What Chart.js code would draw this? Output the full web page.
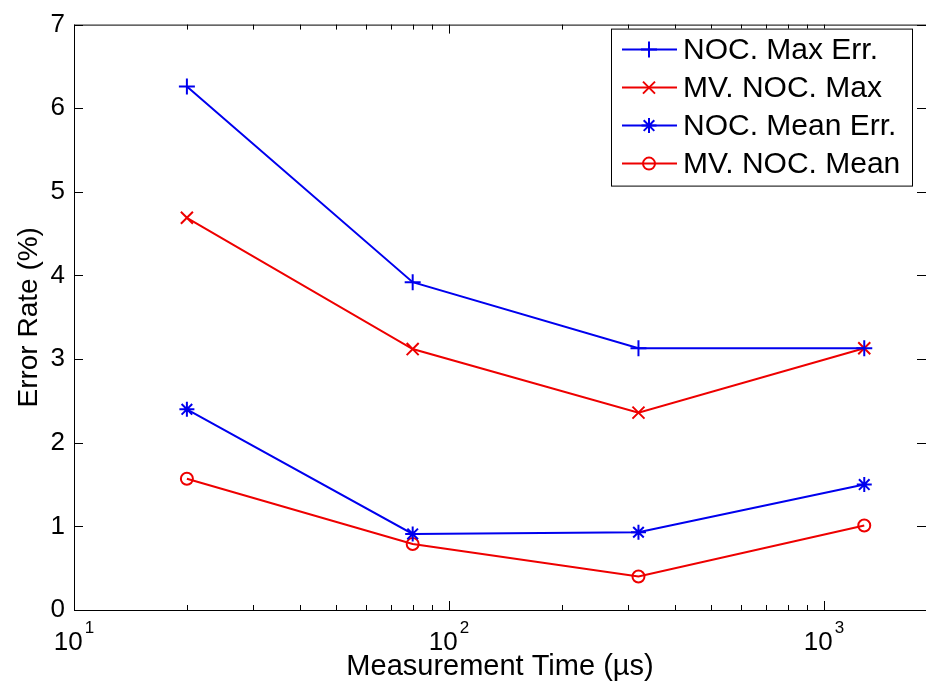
<!DOCTYPE html>
<html>
<head>
<meta charset="utf-8">
<script src="https://cdn.jsdelivr.net/npm/chart.js@4/dist/chart.umd.min.js"></script>
<style>
html, body { margin: 0; padding: 0; background: #fff; }
#wrap { width: 926px; height: 693px; }
</style>
</head>
<body>
<div id="wrap"><canvas id="myChart" width="926" height="693"></canvas></div>
<script>
// measurement times (µs) and error rates (%)
const times = [20, 80, 320, 1280];
const nocMaxErr = [6.26, 3.92, 3.13, 3.13];
const mvNocMax = [4.69, 3.12, 2.36, 3.13];
const nocMeanErr = [2.40, 0.91, 0.93, 1.50];
const mvNocMean = [1.57, 0.79, 0.40, 1.01];

const seriesNames = ["NOC. Max Err.", "MV. NOC. Max", "NOC. Mean Err.", "MV. NOC. Mean"];
const yTicks = [0, 1, 2, 3, 4, 5, 6, 7];
const xMajorTicks = [10, 100, 1000];
const xTickExp = ["1", "2", "3"];
const xMinorTicks = [20, 30, 40, 50, 60, 70, 80, 90, 200, 300, 400, 500, 600, 700, 800, 900];

const BLUE = "#0000ee";
const RED = "#ee0000";
const FONT = "'Liberation Sans', Arial, Helvetica, sans-serif";

function pts(ys) {
  return times.map((t, i) => ({ x: t, y: ys[i] }));
}

const styles = [
  { color: BLUE, marker: "cross", r: 8 },
  { color: RED, marker: "crossRot", r: 8.5 },
  { color: BLUE, marker: "star", r: 7.5 },
  { color: RED, marker: "circle", r: 6 },
];
const allData = [nocMaxErr, mvNocMax, nocMeanErr, mvNocMean];

const datasets = allData.map((d, i) => ({
  label: seriesNames[i],
  data: pts(d),
  borderColor: styles[i].color,
  backgroundColor: styles[i].color,
  borderWidth: 2,
  pointStyle: styles[i].marker,
  pointRadius: styles[i].r,
  pointBorderWidth: 2,
  pointBorderColor: styles[i].color,
  pointBackgroundColor: "rgba(0,0,0,0)",
  fill: false,
  tension: 0,
}));

function marker(ctx, type, x, y, r, color) {
  ctx.save();
  ctx.strokeStyle = color;
  ctx.lineWidth = 2;
  ctx.beginPath();
  const d = r * Math.SQRT1_2;
  if (type === "cross" || type === "star") {
    ctx.moveTo(x - r, y); ctx.lineTo(x + r, y);
    ctx.moveTo(x, y - r); ctx.lineTo(x, y + r);
  }
  if (type === "crossRot" || type === "star") {
    ctx.moveTo(x - d, y - d); ctx.lineTo(x + d, y + d);
    ctx.moveTo(x - d, y + d); ctx.lineTo(x + d, y - d);
  }
  if (type === "circle") {
    ctx.arc(x, y, r, 0, Math.PI * 2);
  }
  ctx.stroke();
  ctx.restore();
}

const matlabAxes = {
  id: "matlabAxes",
  afterDraw(chart) {
    const ctx = chart.ctx;
    const ca = chart.chartArea;
    const xs = chart.scales.x;
    const ys = chart.scales.y;
    ctx.save();
    ctx.strokeStyle = "#000";
    ctx.lineWidth = 1;
    // box
    ctx.strokeRect(ca.left + 0.5, ca.top + 0.5, ca.right - ca.left, ca.bottom - ca.top);
    ctx.beginPath();
    // y ticks inside, left and right
    yTicks.forEach((v) => {
      const py = Math.round(ys.getPixelForValue(v)) + 0.5;
      ctx.moveTo(ca.left, py); ctx.lineTo(ca.left + 9, py);
      ctx.moveTo(ca.right, py); ctx.lineTo(ca.right - 9, py);
    });
    // x ticks inside, bottom and top
    xMajorTicks.forEach((v) => {
      const px = Math.round(xs.getPixelForValue(v)) + 0.5;
      ctx.moveTo(px, ca.bottom); ctx.lineTo(px, ca.bottom - 9);
      ctx.moveTo(px, ca.top); ctx.lineTo(px, ca.top + 9);
    });
    xMinorTicks.forEach((v) => {
      const px = Math.round(xs.getPixelForValue(v)) + 0.5;
      ctx.moveTo(px, ca.bottom); ctx.lineTo(px, ca.bottom - 5);
      ctx.moveTo(px, ca.top); ctx.lineTo(px, ca.top + 5);
    });
    ctx.stroke();

    // x tick labels 10^n
    ctx.fillStyle = "#000";
    ctx.textBaseline = "alphabetic";
    xMajorTicks.forEach((v, i) => {
      const px = xs.getPixelForValue(v);
      ctx.font = "26px " + FONT;
      const wb = ctx.measureText("10").width;
      ctx.font = "17px " + FONT;
      const we = ctx.measureText(xTickExp[i]).width;
      const x0 = px - (wb + 2 + we) / 2;
      ctx.font = "26px " + FONT;
      ctx.textAlign = "left";
      ctx.fillText("10", x0, 650);
      ctx.font = "17px " + FONT;
      ctx.fillText(xTickExp[i], x0 + wb + 2, 633);
    });

    // legend
    const bx = ca.right - 315, by = ca.top + 4, bw = 301, bh = 157;
    ctx.fillStyle = "#fff";
    ctx.fillRect(bx, by, bw, bh);
    ctx.strokeRect(bx + 0.5, by + 0.5, bw, bh);
    seriesNames.forEach((name, i) => {
      const ry = by + 21 + i * 38;
      ctx.strokeStyle = styles[i].color;
      ctx.lineWidth = 2;
      ctx.beginPath();
      ctx.moveTo(bx + 11, ry); ctx.lineTo(bx + 66, ry);
      ctx.stroke();
      marker(ctx, styles[i].marker, bx + 38, ry, styles[i].r, styles[i].color);
      ctx.fillStyle = "#000";
      ctx.font = "30px " + FONT;
      ctx.textAlign = "left";
      ctx.textBaseline = "middle";
      ctx.fillText(name, bx + 72, ry + 1);
    });
    ctx.restore();
  },
};

const ctx = document.getElementById("myChart").getContext("2d");
const myChart = new Chart(ctx, {
  type: "line",
  data: { datasets: datasets },
  options: {
    responsive: false,
    animation: false,
    layout: { autoPadding: false, padding: { top: 22, right: 0, left: 0, bottom: 0 } },
    plugins: { legend: { display: false }, tooltip: { enabled: false } },
    scales: {
      x: {
        type: "logarithmic",
        min: 10,
        max: 1870,
        grid: { display: false, drawTicks: false },
        border: { display: false },
        ticks: { display: false },
        title: {
          display: true,
          text: "Measurement Time (µs)",
          color: "#000",
          font: { size: 29, family: FONT },
          padding: { top: 0, bottom: 9 },
        },
        afterFit(s) { s.height = 83; },
      },
      y: {
        min: 0,
        max: 7,
        grid: { display: false, drawTicks: false },
        border: { display: false },
        afterBuildTicks(s) { s.ticks = yTicks.map((v) => ({ value: v })); },
        ticks: {
          color: "#000",
          padding: 9,
          font: { size: 26, family: FONT },
        },
        title: {
          display: true,
          text: "Error Rate (%)",
          color: "#000",
          font: { size: 28, family: FONT },
          padding: { top: 12, bottom: 0 },
        },
        afterFit(s) { s.width = 74; },
      },
    },
  },
  plugins: [matlabAxes],
});
</script>
</body>
</html>
